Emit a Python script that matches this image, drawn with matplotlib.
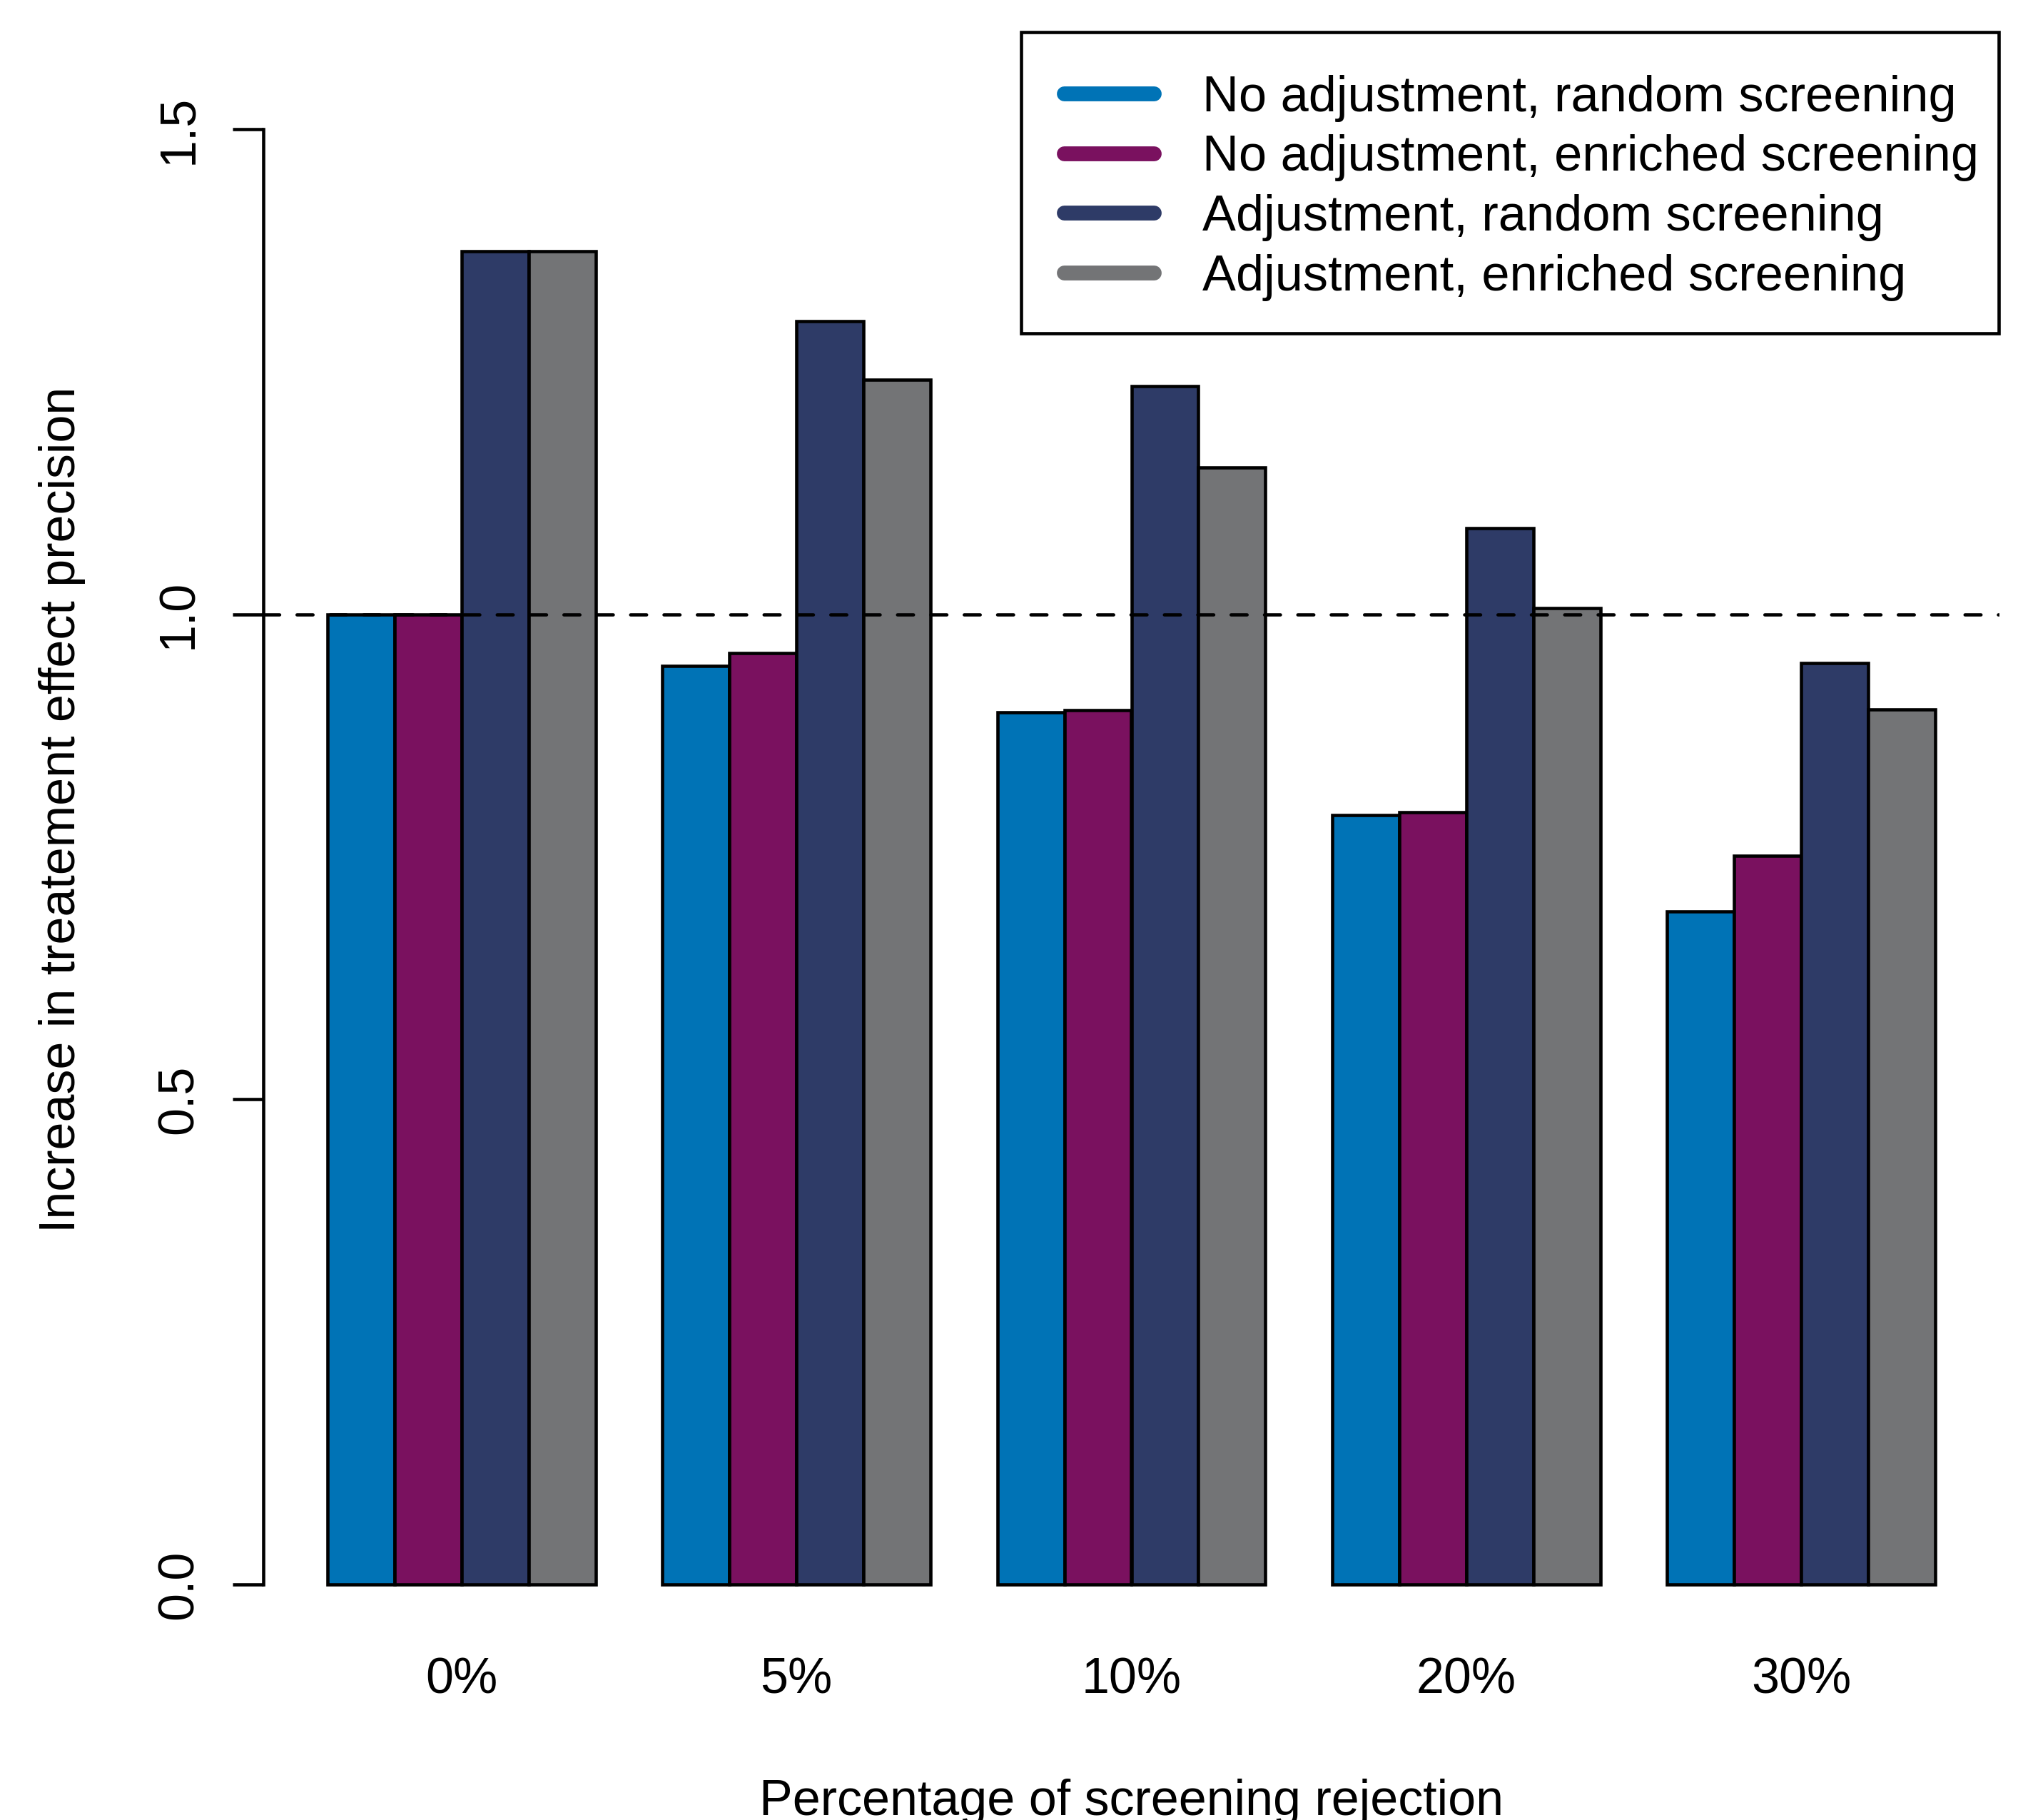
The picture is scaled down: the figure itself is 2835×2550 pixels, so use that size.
import matplotlib
matplotlib.use("Agg")
import matplotlib.pyplot as plt
import numpy as np
from matplotlib.lines import Line2D
from matplotlib.patches import Rectangle

# ---------------- data ----------------
categories = ["0%", "5%", "10%", "20%", "30%"]
series_names = [
    "No adjustment, random screening",
    "No adjustment, enriched screening",
    "Adjustment, random screening",
    "Adjustment, enriched screening",
]
no_adj_random = [1.000, 0.947, 0.899, 0.793, 0.694]
no_adj_enriched = [1.000, 0.960, 0.901, 0.796, 0.751]
adj_random = [1.374, 1.302, 1.235, 1.089, 0.950]
adj_enriched = [1.374, 1.242, 1.151, 1.006, 0.902]
colors = ["#0073B6", "#7A115F", "#2E3B67", "#737476"]
y_ticks = [0.0, 0.5, 1.0, 1.5]
y_tick_labels = ["0.0", "0.5", "1.0", "1.5"]
reference_line = 1.0
xlabel = "Percentage of screening rejection"
ylabel = "Increase in treatement effect precision"

series = [no_adj_random, no_adj_enriched, adj_random, adj_enriched]

# ---------------- style ----------------
plt.rcParams['font.family'] = ['Liberation Sans', 'DejaVu Sans']
FS = 16.8
FS_LEG = 16.88
LW = 1.1

W, H, DPI = 2835, 2550, 300
fig = plt.figure(figsize=(W / DPI, H / DPI), dpi=DPI)
fig.patch.set_facecolor("white")

left_px, right_px = 369, 2802
top_px, bottom_px = 99.4, 2301.6
ax = fig.add_axes([left_px / W, 1 - bottom_px / H,
                   (right_px - left_px) / W, (bottom_px - top_px) / H])

n_groups = len(categories)
n_series = len(series)
group_step = n_series + 1
group_starts = np.arange(n_groups) * group_step + 1

for i, (vals, name, c) in enumerate(zip(series, series_names, colors)):
    x = group_starts + i + 0.5
    ax.bar(x, vals, width=1.0, color=c, edgecolor="black",
           linewidth=LW, zorder=2)

ax.axhline(reference_line, color="black", lw=LW,
           linestyle=(0, (4.9, 5.3)), dash_capstyle="round", zorder=3)

ax.set_xlim(0.04, group_starts[-1] + n_series + 0.96)
ax.set_ylim(-0.06, 1.56)

for s in ["top", "right", "bottom"]:
    ax.spines[s].set_visible(False)
ax.spines["left"].set_bounds(0, 1.5)
ax.spines["left"].set_linewidth(LW)

ax.set_yticks(y_ticks)
ax.set_yticklabels(y_tick_labels, rotation=90, va="center", fontsize=FS)
ax.tick_params(axis="y", length=10.3, width=LW, pad=10)

ax.set_xticks(group_starts + n_series / 2)
ax.set_xticklabels(categories, fontsize=FS)
ax.tick_params(axis="x", length=0, pad=4.7)

fig.text(105 / W, 1 - 1134 / H, ylabel, rotation=90, rotation_mode="anchor",
         ha="center", va="baseline", fontsize=FS)
fig.text(1586 / W, 1 - 2543 / H, xlabel, ha="center", va="baseline",
         fontsize=FS)

# legend (frame drawn separately to match the reference box)
box_l, box_t, box_r, box_b = 1431, 45, 2801, 467
ax.add_patch(Rectangle((box_l / W, 1 - box_b / H), (box_r - box_l) / W,
                       (box_b - box_t) / H, transform=fig.transFigure,
                       facecolor="white", edgecolor="black", linewidth=LW,
                       clip_on=False, zorder=4))
handles = [Line2D([0], [0], color=c, lw=5, solid_capstyle="round")
           for c in colors]
leg = ax.legend(handles, series_names, loc="upper left",
                bbox_to_anchor=(box_l / W, 1 - box_t / H),
                bbox_transform=fig.transFigure, fontsize=FS_LEG,
                frameon=False, borderaxespad=0, borderpad=0.85,
                labelspacing=0.25, handlelength=1.8, handletextpad=0.96)
leg.set_zorder(6)

fig.savefig("out.png", dpi=DPI, facecolor="white")
